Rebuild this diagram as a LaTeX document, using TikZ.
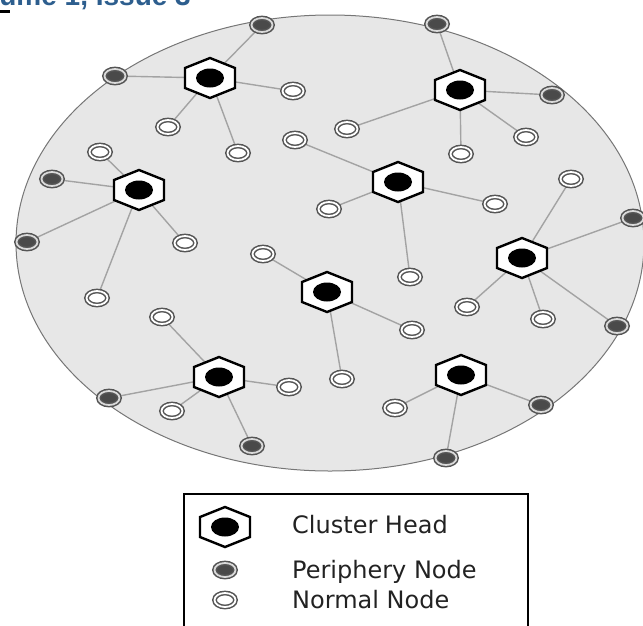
\documentclass[tikz,border=0pt]{standalone}
\usepackage{fontspec}
\setmainfont{DejaVu Sans}
\newfontfamily\headfont{Liberation Sans}
\usetikzlibrary{shapes.geometric,backgrounds}

\definecolor{fieldgray}{HTML}{E7E7E7}
\definecolor{edgegray}{HTML}{767676}
\definecolor{linkgray}{HTML}{A3A3A3}
\definecolor{ringgray}{HTML}{555555}
\definecolor{ringlight}{HTML}{DADADA}
\definecolor{coregray}{HTML}{4A4A4A}
\definecolor{legendink}{HTML}{222222}
\definecolor{headblue}{HTML}{2D5E8E}

% cluster head: white hexagon with a black core node
\newcommand\clusterhead[3]{%
  \draw[hexline] (#2,#3) ++(0,-20) -- ++(25,10) -- ++(0,20) -- ++(-25,10)
    -- ++(-25,-10) -- ++(0,-20) -- cycle;
  \node[chcore] (#1) at (#2,#3) {};}

\begin{document}
\begin{tikzpicture}[x=1pt,y=-1pt,
  link/.style={draw=linkgray, line width=1.4pt},
  ringnode/.style={ellipse, inner sep=0pt, outer sep=0pt, minimum width=21pt,
    minimum height=14pt, draw=ringgray, line width=1.5pt, double distance=1.8pt},
  normal/.style={ringnode, double=white, fill=white},
  periphery/.style={ringnode, double=ringlight, fill=coregray},
  chcore/.style={ellipse, inner sep=0pt, minimum width=28pt, minimum height=19pt,
    fill=black},
  hexline/.style={draw=black, line width=2.4pt, fill=white, line join=miter},
  legendtext/.style={anchor=base west, inner sep=0pt,
    font=\fontsize{24}{28}\selectfont, text=legendink}]

\useasboundingbox (0,0) rectangle (643,625);

% journal header, mostly above the page edge
\node[anchor=base east, inner sep=0pt, text=headblue,
  font=\headfont\bfseries\fontsize{28}{32}\selectfont] (head) at (191,5)
  {Volume 1, Issue 3};
\draw[line width=3pt] (0,11) -- (10,11);

% ---- cluster heads
\clusterhead{C1}{210}{78}
\clusterhead{C2}{460}{90}
\clusterhead{C3}{139}{190}
\clusterhead{C4}{398}{182}
\clusterhead{C5}{522}{258}
\clusterhead{C6}{327}{292}
\clusterhead{C7}{219}{377}
\clusterhead{C8}{461}{375}

% ---- periphery nodes
\node[periphery] (P1)  at (115,76)  {};
\node[periphery] (P2)  at (262,25)  {};
\node[periphery] (P3)  at (437,24)  {};
\node[periphery] (P4)  at (552,95)  {};
\node[periphery] (P5)  at (52,179)  {};
\node[periphery] (P6)  at (27,242)  {};
\node[periphery] (P7)  at (633,218) {};
\node[periphery] (P8)  at (617,326) {};
\node[periphery] (P9)  at (109,398) {};
\node[periphery] (P10) at (252,446) {};
\node[periphery] (P11) at (541,405) {};
\node[periphery] (P12) at (446,458) {};

% ---- normal nodes
\node[normal] (N1)  at (293,91)  {};
\node[normal] (N2)  at (168,127) {};
\node[normal] (N3)  at (238,153) {};
\node[normal] (N4)  at (526,137) {};
\node[normal] (N5)  at (461,154) {};
\node[normal] (N6)  at (347,129) {};
\node[normal] (N7)  at (100,152) {};
\node[normal] (N8)  at (185,243) {};
\node[normal] (N9)  at (97,298)  {};
\node[normal] (N10) at (295,140) {};
\node[normal] (N11) at (329,209) {};
\node[normal] (N12) at (495,204) {};
\node[normal] (N13) at (410,277) {};
\node[normal] (N14) at (571,179) {};
\node[normal] (N15) at (467,307) {};
\node[normal] (N16) at (543,319) {};
\node[normal] (N17) at (263,254) {};
\node[normal] (N18) at (412,330) {};
\node[normal] (N19) at (342,379) {};
\node[normal] (N20) at (162,317) {};
\node[normal] (N21) at (172,411) {};
\node[normal] (N22) at (289,387) {};
\node[normal] (N23) at (395,408) {};

% ---- sensing field and cluster links, beneath the nodes
\begin{scope}[on background layer]
  \filldraw[fill=fieldgray, draw=edgegray, line width=1pt]
    (330,243) ellipse [x radius=314, y radius=228];
  \foreach \c/\m in {C1/P1,C1/P2,C1/N1,C1/N2,C1/N3,
                     C2/P3,C2/P4,C2/N4,C2/N5,C2/N6,
                     C3/N7,C3/P5,C3/P6,C3/N8,C3/N9,
                     C4/N10,C4/N11,C4/N12,C4/N13,
                     C5/N14,C5/P7,C5/N15,C5/N16,C5/P8,
                     C6/N17,C6/N18,C6/N19,
                     C7/N20,C7/P9,C7/N21,C7/N22,C7/P10,
                     C8/N23,C8/P11,C8/P12}
    \draw[link] (\c.center) -- (\m.center);
\end{scope}

% ---- legend
\node[draw=black, line width=2pt, anchor=north west, inner sep=0pt,
  minimum width=344pt, minimum height=160pt] (legend) at (183,493) {};
\clusterhead{LC}{225}{527}
\node[periphery] (LP) at (225,570) {};
\node[normal]    (LN) at (225,600) {};
\node[legendtext] (tc) at (292,533) {Cluster Head};
\node[legendtext] (tp) at (292,578) {Periphery Node};
\node[legendtext] (tn) at (292,608) {Normal Node};

\end{tikzpicture}
\end{document}
